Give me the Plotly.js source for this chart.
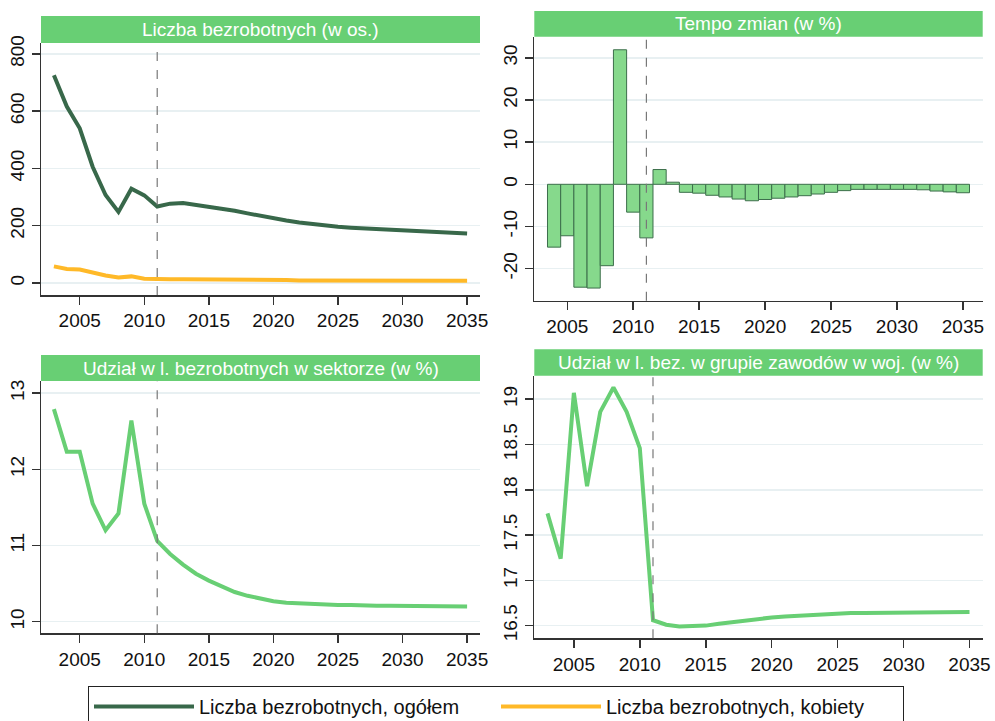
<!DOCTYPE html>
<html>
<head>
<meta charset="utf-8">
<script src="https://cdn.plot.ly/plotly-3.0.1.min.js"></script>
<style>
html,body{margin:0;padding:0;background:#fff;}
#chart{width:995px;height:721px;}
</style>
</head>
<body>
<div id="chart"></div>
<script>
var years = [2003,2004,2005,2006,2007,2008,2009,2010,2011,2012,2013,2014,2015,2016,2017,2018,2019,2020,2021,2022,2023,2024,2025,2026,2027,2028,2029,2030,2031,2032,2033,2034,2035];
var unemployedTotal = [725,616,540,406,307,248,329,306,267,277,279,273,267,260,252,243,234,226,218,211,205,200,196,193,191,189,187,185,183,181,179,176,173];
var unemployedWomen = [58,49,47,35,26,19,23,15,13,13,13,13,12,12,11,11,11,11,10,9,9,9,9,9,9,9,9,9,8,8,8,8,8];
var tempoYears = [2004,2005,2006,2007,2008,2009,2010,2011,2012,2013,2014,2015,2016,2017,2018,2019,2020,2021,2022,2023,2024,2025,2026,2027,2028,2029,2030,2031,2032,2033,2034,2035];
var tempoChange = [-14.9,-12.2,-24.4,-24.6,-19.3,31.9,-6.6,-12.7,3.5,0.5,-1.9,-2.1,-2.6,-3.0,-3.5,-3.9,-3.6,-3.3,-3.0,-2.7,-2.3,-1.9,-1.5,-1.2,-1.2,-1.2,-1.2,-1.2,-1.3,-1.6,-1.8,-2.0];
var shareSector = [12.79,12.23,12.23,11.55,11.20,11.42,12.64,11.55,11.06,10.89,10.75,10.63,10.54,10.46,10.39,10.34,10.30,10.27,10.25,10.24,10.23,10.23,10.22,10.22,10.21,10.21,10.21,10.21,10.20,10.20,10.20,10.20,10.20];
var shareGroup = [17.74,17.24,19.07,18.04,18.86,19.13,18.86,18.46,16.56,16.51,16.49,16.49,16.50,16.52,16.54,16.56,16.57,16.59,16.60,16.61,16.62,16.62,16.63,16.64,16.64,16.64,16.64,16.64,16.65,16.65,16.65,16.65,16.65];
var xTicks = [2005,2010,2015,2020,2025,2030,2035];
var y1Ticks = [0,200,400,600,800];
var y2Ticks = [-20,-10,0,10,20,30];
var y2TickText = ["-20","-10","0","10","20","30"];
var y3Ticks = [10,11,12,13];
var y4Ticks = [16.5,17,17.5,18,18.5,19];
var titles = ["Liczba bezrobotnych (w os.)","Tempo zmian (w %)","Udział w l. bezrobotnych w sektorze (w %)","Udział w l. bez. w grupie zawodów w woj. (w %)"];
var legendNames = ["Liczba bezrobotnych, ogółem","Liczba bezrobotnych, kobiety"];
var forecastStart = 2011;

var W = 995, H = 721;
var FONT = "Liberation Sans, Arial, sans-serif";
var GREEN = "rgb(104,207,116)";
var DARK = "rgb(56,104,74)";
var YELLOW = "rgb(255,185,40)";
var GRID = "rgb(232,240,242)";

function px2x(p){return p/W;}
function px2y(p){return 1-p/H;}

// panel geometry in px: [left, right, plotTop, plotBottom, titleTop]
var panels = [
  [41, 480, 43, 295, 16],
  [534.3, 982.7, 36.7, 300.7, 11],
  [41, 480, 381, 633.3, 355],
  [534.3, 982.7, 375.7, 638.3, 349.3]
];

var traces = [
  {x: years, y: unemployedTotal, type:'scatter', mode:'lines', name: legendNames[0], line:{color:DARK, width:4}, xaxis:'x', yaxis:'y'},
  {x: years, y: unemployedWomen, type:'scatter', mode:'lines', name: legendNames[1], line:{color:YELLOW, width:4}, xaxis:'x', yaxis:'y'},
  {x: tempoYears, y: tempoChange, type:'bar', showlegend:false, width:1, marker:{color:'rgb(134,217,140)', line:{color:'rgb(60,110,75)', width:1}}, xaxis:'x2', yaxis:'y2'},
  {x: years, y: shareSector, type:'scatter', mode:'lines', showlegend:false, line:{color:GREEN, width:4}, xaxis:'x3', yaxis:'y3'},
  {x: years, y: shareGroup, type:'scatter', mode:'lines', showlegend:false, line:{color:GREEN, width:4}, xaxis:'x4', yaxis:'y4'}
];

function xax(i, range){
  var p = panels[i];
  return {domain:[px2x(p[0]), px2x(p[1])], range:range, tickvals:xTicks, ticks:'outside', ticklen:8, tickwidth:1.5, tickcolor:'#333',
    showline:true, linecolor:'#333', linewidth:1.5, showgrid:false, zeroline:false, anchor: i===0?'y':'y'+(i+1),
    tickfont:{family:FONT, size:19, color:'#111'}, fixedrange:true, automargin:false};
}
function yax(i, range, tickvals, ticktext){
  var p = panels[i];
  var a = {domain:[px2y(p[3]), px2y(p[2])], range:range, tickvals:tickvals, ticks:'outside', ticklen:8, tickwidth:1.5, tickcolor:'#333',
    showline:true, linecolor:'#333', linewidth:1.5, showgrid:true, gridcolor:GRID, gridwidth:1.5, zeroline:false, tickangle:-90,
    anchor: i===0?'x':'x'+(i+1), tickfont:{family:FONT, size:19, color:'#111'}, fixedrange:true, automargin:false};
  if (ticktext) a.ticktext = ticktext;
  return a;
}

var shapes = [], annotations = [];
panels.forEach(function(p, i){
  shapes.push({type:'rect', xref:'paper', yref:'paper', x0:px2x(p[0]), x1:px2x(p[1]), y0:px2y(p[2]), y1:px2y(p[4]), fillcolor:GREEN, line:{width:0}, layer:'above'});
  annotations.push({xref:'paper', yref:'paper', x:(px2x(p[0])+px2x(p[1]))/2, y:(px2y(p[2])+px2y(p[4]))/2, text:titles[i], showarrow:false,
    font:{family:FONT, size:19, color:'#fff'}, xanchor:'center', yanchor:'middle'});
  var xr = i===0?'x':'x'+(i+1), yr = i===0?'y domain':'y'+(i+1)+' domain';
  shapes.push({type:'line', xref:xr, yref:yr, x0:forecastStart, x1:forecastStart, y0:0, y1:1, line:{color:'rgb(120,120,120)', width:1.2, dash:'dash'}});
});

var layout = {
  width:W, height:H, margin:{l:0,r:0,t:0,b:0, autoexpand:false}, paper_bgcolor:'#fff', plot_bgcolor:'#fff',
  font:{family:FONT, size:18, color:'#111'},
  bargap:0,
  xaxis: xax(0,[2002,2036]), yaxis: yax(0,[-42,838],y1Ticks),
  xaxis2: xax(1,[2002.5,2036.5]), yaxis2: yax(1,[-27.6,35],y2Ticks,y2TickText),
  xaxis3: xax(2,[2002,2036]), yaxis3: yax(2,[9.848,13.16],y3Ticks),
  xaxis4: xax(3,[2002,2036]), yaxis4: yax(3,[16.36,19.26],y4Ticks),
  shapes: shapes, annotations: annotations,
  showlegend:true,
  legend:{orientation:'h', x:px2x(88), xanchor:'left', y:px2y(686), yanchor:'top', bordercolor:'#222', borderwidth:1,
    font:{family:FONT, size:20, color:'#111'}, itemwidth:100, entrywidth:292, bgcolor:'#fff', traceorder:'normal'}
};

Plotly.newPlot('chart', traces, layout, {displayModeBar:false, staticPlot:true});
</script>
</body>
</html>
